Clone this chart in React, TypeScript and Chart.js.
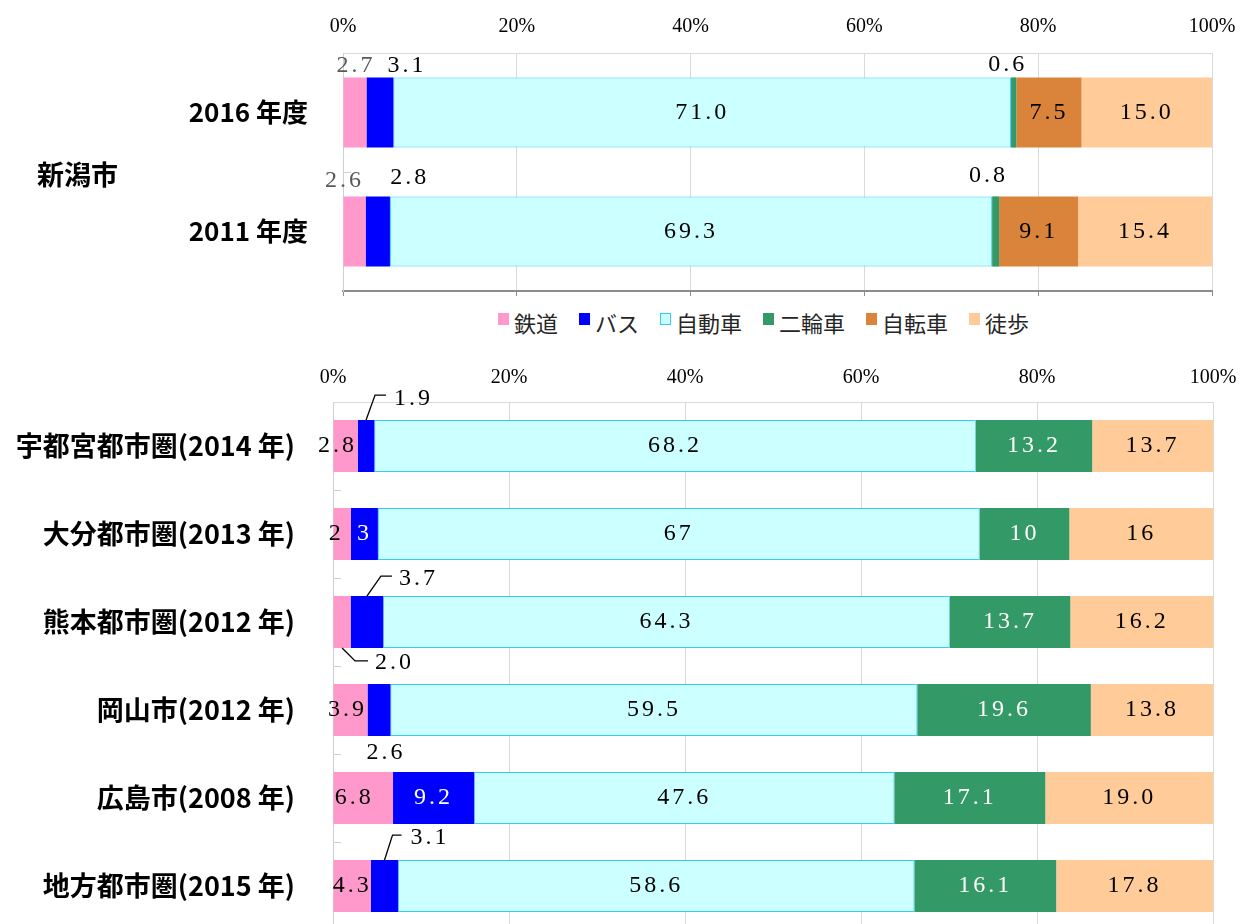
import React, { useEffect, useRef } from "react";
import { Chart, registerables } from "chart.js";

Chart.register(...registerables);

// ---------- data ----------
const X_TICK_STEP = 20;

const TOP_GROUP = "新潟市";
const TOP_CATEGORIES = ["2016 年度", "2011 年度"];
const TOP_SERIES = ["鉄道", "バス", "自動車", "二輪車", "自転車", "徒歩"];
const TOP_RAIL = [2.7, 2.6];
const TOP_BUS = [3.1, 2.8];
const TOP_CAR = [71.0, 69.3];
const TOP_MOTO = [0.6, 0.8];
const TOP_BIKE = [7.5, 9.1];
const TOP_WALK = [15.0, 15.4];
const TOP_DECIMALS = [1, 1];

const BOTTOM_CATEGORIES = [
  "宇都宮都市圏(2014 年)",
  "大分都市圏(2013 年)",
  "熊本都市圏(2012 年)",
  "岡山市(2012 年)",
  "広島市(2008 年)",
  "地方都市圏(2015 年)",
];
const BOTTOM_SERIES = ["鉄道", "バス", "自動車", "二輪車", "徒歩"];
const BOTTOM_RAIL = [2.8, 2, 2.0, 3.9, 6.8, 4.3];
const BOTTOM_BUS = [1.9, 3, 3.7, 2.6, 9.2, 3.1];
const BOTTOM_CAR = [68.2, 67, 64.3, 59.5, 47.6, 58.6];
const BOTTOM_TWO = [13.2, 10, 13.7, 19.6, 17.1, 16.1];
const BOTTOM_WALK = [13.7, 16, 16.2, 13.8, 19.0, 17.8];
const BOTTOM_DECIMALS = [1, 0, 1, 1, 1, 1];

// ---------- styles ----------
const SERIF = '"Liberation Serif", "DejaVu Serif", serif';
const SANS = '"Noto Sans CJK JP", "Noto Sans", sans-serif';

const SERIES_STYLE: Record<string, { bg: string; border: string; borderWidth: number; label: string }> = {
  鉄道: { bg: "#FF99CC", border: "#FF99CC", borderWidth: 0, label: "#000" },
  バス: { bg: "#0000FF", border: "#0000FF", borderWidth: 0, label: "#fff" },
  自動車: { bg: "#CCFFFF", border: "#33CCFF", borderWidth: 1, label: "#000" },
  二輪車: { bg: "#339966", border: "#339966", borderWidth: 0, label: "#fff" },
  自転車: { bg: "#DA833B", border: "#DA833B", borderWidth: 0, label: "#000" },
  徒歩: { bg: "#FFCC99", border: "#FFCC99", borderWidth: 0, label: "#000" },
};

type Placement = {
  at: "center" | "above" | "below";
  dx?: number;
  dy?: number;
  align?: CanvasTextAlign;
  color?: string;
  leader?: [number, number][];
};

const TOP_PLACEMENTS: Record<string, Placement> = {
  "0:0": { at: "above", dx: 1, dy: -12, color: "#595959" },
  "0:1": { at: "above", dx: 27, dy: -12, color: "#000" },
  "0:3": { at: "above", dx: -6, dy: -13, color: "#000" },
  "1:0": { at: "above", dx: -10, dy: -16, color: "#595959" },
  "1:1": { at: "above", dx: 32, dy: -19, color: "#000" },
  "1:3": { at: "above", dx: -7, dy: -21, color: "#000" },
};

const BOTTOM_PLACEMENTS: Record<string, Placement> = {
  "0:0": { at: "center", dx: -8 },
  "0:1": { at: "above", align: "left", dx: 28, dy: -21, color: "#000", leader: [[0, 0], [9, -25], [20, -25]] },
  "1:0": { at: "center", dx: -6 },
  "2:0": { at: "below", align: "left", dx: 33, dy: 15, color: "#000", leader: [[0, 0], [13, 13], [26, 13]] },
  "2:1": { at: "above", align: "left", dx: 32, dy: -17, color: "#000", leader: [[0, 0], [14, -20], [25, -20]] },
  "3:0": { at: "center", dx: -3 },
  "3:1": { at: "below", dx: 7, dy: 17, color: "#000" },
  "4:0": { at: "center", dx: -9 },
  "5:1": { at: "above", align: "left", dx: 26, dy: -22, color: "#000", leader: [[0, 0], [8, -25], [17, -25]] },
};

// ---------- helpers ----------
function buildDatasets(series: string[], columns: number[][]) {
  const rows = columns[0].length;
  const sums = Array.from({ length: rows }, (_, r) => columns.reduce((a, c) => a + c[r], 0));
  return series.map((name, s) => {
    const st = SERIES_STYLE[name];
    return {
      label: name,
      data: columns[s].map((v, r) => (v / sums[r]) * 100),
      labelValues: columns[s],
      backgroundColor: st.bg,
      borderColor: st.border,
      borderWidth: st.borderWidth,
      borderSkipped: false,
      categoryPercentage: 1,
      barPercentage: 0.59,
    };
  });
}

const segLabels = {
  id: "segLabels",
  afterDatasetsDraw(chart: any, _args: any, opts: any) {
    const { ctx } = chart;
    ctx.save();
    ctx.font = `${opts.size}px ${SERIF}`;
    (ctx as any).letterSpacing = `${opts.spacing}px`;
    ctx.textBaseline = "middle";
    chart.data.datasets.forEach((ds: any, di: number) => {
      const meta = chart.getDatasetMeta(di);
      const st = SERIES_STYLE[ds.label];
      meta.data.forEach((el: any, i: number) => {
        const v = ds.labelValues[i];
        if (v == null) return;
        const text = v.toFixed(opts.decimals[i]);
        const { x, y, base, height } = el.getProps(["x", "y", "base", "height"], true);
        const cx = (x + base) / 2;
        const p: Placement = opts.placements[`${i}:${di}`] || { at: "center" };
        const ay = p.at === "above" ? y - height / 2 : p.at === "below" ? y + height / 2 : y;
        if (p.leader) {
          ctx.save();
          ctx.strokeStyle = "#000";
          ctx.lineWidth = 1.3;
          ctx.beginPath();
          p.leader.forEach(([lx, ly], k) => {
            if (k === 0) ctx.moveTo(cx + lx, ay + ly);
            else ctx.lineTo(cx + lx, ay + ly);
          });
          ctx.stroke();
          ctx.restore();
        }
        ctx.fillStyle = p.color || st.label;
        ctx.textAlign = p.align || "center";
        ctx.fillText(text, cx + (p.dx || 0), ay + (p.dy || 0));
      });
    });
    ctx.restore();
  },
};

const innerTicks = {
  id: "innerTicks",
  afterDatasetsDraw(chart: any) {
    const { ctx, chartArea } = chart;
    const y = chart.scales.y;
    const n = chart.data.labels.length;
    ctx.save();
    ctx.strokeStyle = "#d0d0d0";
    ctx.lineWidth = 1;
    for (let i = 1; i < n; i++) {
      const py = Math.round(y.getPixelForValue(i - 0.5)) + 0.5;
      ctx.beginPath();
      ctx.moveTo(chartArea.left, py);
      ctx.lineTo(chartArea.left + 8, py);
      ctx.stroke();
    }
    ctx.restore();
  },
};

const groupLabel = {
  id: "groupLabel",
  afterDraw(chart: any, _args: any, opts: any) {
    if (!opts.text) return;
    const { ctx } = chart;
    const y = chart.scales.y;
    const n = chart.data.labels.length;
    const py = (y.getPixelForValue(0) + y.getPixelForValue(n - 1)) / 2;
    ctx.save();
    ctx.font = `bold ${opts.size}px ${SANS}`;
    ctx.fillStyle = "#000";
    ctx.textAlign = "left";
    ctx.textBaseline = "middle";
    ctx.fillText(opts.text, opts.x, py + 3);
    ctx.restore();
  },
};

function makeConfig(o: {
  labels: string[];
  datasets: any[];
  yWidth: number;
  xHeight: number;
  xPad: number;
  yPad: number;
  catSize: number;
  rightPad: number;
  decimals: number[];
  placements: Record<string, Placement>;
  group?: string;
}) {
  return {
    type: "bar" as const,
    data: { labels: o.labels, datasets: o.datasets },
    plugins: [segLabels, innerTicks, groupLabel],
    options: {
      indexAxis: "y" as const,
      responsive: false,
      animation: false as const,
      devicePixelRatio: 1,
      events: [],
      layout: { padding: { left: 0, right: o.rightPad, top: 0, bottom: 0 } },
      scales: {
        x: {
          type: "linear",
          position: "top",
          stacked: true,
          min: 0,
          max: 100,
          ticks: {
            stepSize: X_TICK_STEP,
            callback: (v: any) => `${v}%`,
            font: { family: SERIF, size: 20 },
            color: "#000",
            padding: o.xPad,
            maxRotation: 0,
          },
          grid: { color: "#d9d9d9", drawTicks: false, lineWidth: 1 },
          border: { color: "#d9d9d9" },
          afterFit: (s: any) => {
            s.height = o.xHeight;
            s.paddingLeft = 0;
            s.paddingRight = 0;
          },
        },
        x2: {
          type: "linear",
          axis: "x",
          position: "bottom",
          min: 0,
          max: 100,
          ticks: { stepSize: X_TICK_STEP, display: false },
          grid: { drawOnChartArea: false, drawTicks: true, tickLength: 5, color: "#8c8c8c" },
          border: { color: "#8c8c8c", width: 2 },
          afterFit: (s: any) => {
            s.height = 9;
            s.paddingLeft = 0;
            s.paddingRight = 0;
          },
        },
        y: {
          type: "category",
          stacked: true,
          ticks: {
            font: { family: SANS, size: o.catSize, weight: "bold" },
            color: "#000",
            padding: o.yPad,
            autoSkip: false,
          },
          grid: { display: false, drawTicks: false },
          border: { display: true, color: "#d0d0d0" },
          afterFit: (s: any) => {
            s.width = o.yWidth;
            s.paddingTop = 0;
            s.paddingBottom = 0;
          },
        },
      },
      plugins: {
        legend: { display: false },
        tooltip: { enabled: false },
        segLabels: { size: 24, spacing: 3, decimals: o.decimals, placements: o.placements },
        groupLabel: { text: o.group, x: 37, size: 27 },
      },
    },
  };
}

function Legend() {
  return (
    <div
      style={{
        position: "absolute",
        left: 498,
        top: 309,
        display: "flex",
        alignItems: "center",
        fontFamily: SANS,
        fontSize: 22,
        lineHeight: "26px",
        color: "#262626",
        whiteSpace: "nowrap",
      }}
    >
      {TOP_SERIES.map((name) => {
        const st = SERIES_STYLE[name];
        return (
          <div key={name} style={{ display: "flex", alignItems: "center", marginRight: 21 }}>
            <span
              style={{
                display: "inline-block",
                width: 11,
                height: 12,
                boxSizing: "border-box",
                background: st.bg,
                border: st.borderWidth ? `1px solid ${st.border}` : "none",
                marginRight: 5,
                transform: "translateY(-3px)",
              }}
            />
            <span>{name}</span>
          </div>
        );
      })}
    </div>
  );
}

export default function App() {
  const topRef = useRef<HTMLCanvasElement>(null);
  const botRef = useRef<HTMLCanvasElement>(null);

  useEffect(() => {
    const top = new Chart(
      topRef.current as HTMLCanvasElement,
      makeConfig({
        labels: TOP_CATEGORIES,
        datasets: buildDatasets(TOP_SERIES, [TOP_RAIL, TOP_BUS, TOP_CAR, TOP_MOTO, TOP_BIKE, TOP_WALK]),
        yWidth: 343,
        xHeight: 53,
        xPad: 14,
        yPad: 35,
        catSize: 26,
        rightPad: 28,
        decimals: TOP_DECIMALS,
        placements: TOP_PLACEMENTS,
        group: TOP_GROUP,
      }) as any
    );
    const bottom = new Chart(
      botRef.current as HTMLCanvasElement,
      makeConfig({
        labels: BOTTOM_CATEGORIES,
        datasets: buildDatasets(BOTTOM_SERIES, [BOTTOM_RAIL, BOTTOM_BUS, BOTTOM_CAR, BOTTOM_TWO, BOTTOM_WALK]),
        yWidth: 333,
        xHeight: 57,
        xPad: 12,
        yPad: 38,
        catSize: 27,
        rightPad: 27,
        decimals: BOTTOM_DECIMALS,
        placements: BOTTOM_PLACEMENTS,
      }) as any
    );
    return () => {
      top.destroy();
      bottom.destroy();
    };
  }, []);

  return (
    <div
      style={{
        position: "absolute",
        left: 0,
        top: 0,
        width: 1240,
        height: 924,
        overflow: "hidden",
        background: "#fff",
      }}
    >
      <canvas ref={topRef} width={1240} height={300} style={{ position: "absolute", left: 0, top: 0 }} />
      <Legend />
      <canvas ref={botRef} width={1240} height={594} style={{ position: "absolute", left: 0, top: 345 }} />
    </div>
  );
}
